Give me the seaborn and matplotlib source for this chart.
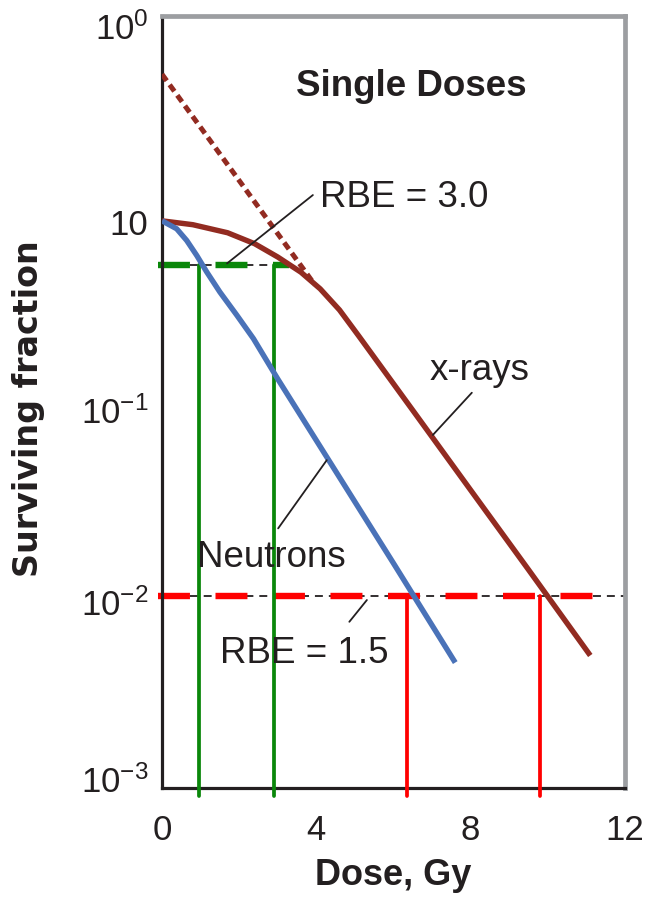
import matplotlib
matplotlib.use("Agg")
import matplotlib.pyplot as plt
import matplotlib.transforms as mtransforms
import pandas as pd
import seaborn as sns

# Cell survival after single doses (dose in Gy, surviving fraction)
xray_dose = [0.0, 0.8, 1.7, 2.4, 3.0, 3.6, 4.1, 4.6, 5.1, 6.5, 8.0, 9.5, 11.1]
xray_surv = [0.90, 0.859, 0.78, 0.684, 0.583, 0.486, 0.398, 0.309, 0.226,
             0.0927, 0.0356, 0.0137, 0.0049]
neutron_dose = [0.0, 0.38, 0.64, 0.9, 1.16, 1.5, 1.94, 2.37, 3.0, 4.5, 6.0, 7.6]
neutron_surv = [0.90, 0.818, 0.711, 0.594, 0.487, 0.383, 0.29, 0.219, 0.135,
                0.0447, 0.0148, 0.0045]

# Back-extrapolation of the x-ray exponential region
extrap_dose = [0.0, 3.96]
extrap_surv = [5.22, 0.418]

# Iso-effect levels and the doses giving them
iso_levels = [0.53, 0.01]
iso_neutron_dose = [0.96, 6.36]
iso_xray_dose = [2.9, 9.79]
rbe_labels = ["RBE = 3.0", "RBE = 1.5"]

# Axis ticks
x_ticks = [0, 4, 8, 12]
y_ticks = [1e-3, 1e-2, 1e-1, 1, 10]
y_ticklabels = [r"$10^{-3}$", r"$10^{-2}$", r"$10^{-1}$", "10", r"$10^{0}$"]

sns.set_theme(style="white")
plt.rcParams["font.family"] = ["Liberation Sans", "DejaVu Sans"]
plt.rcParams["mathtext.fontset"] = "custom"
plt.rcParams["mathtext.rm"] = "Liberation Sans"
plt.rcParams["mathtext.it"] = "Liberation Sans:italic"
plt.rcParams["mathtext.bf"] = "Liberation Sans:bold"

XRAY = "#922B21"
NEUT = "#4A72B8"
GREEN = "#0A870A"
RED = "#FF0000"
INK = "#231F20"
GREY = "#9C9EA1"

fig = plt.figure(figsize=(6.46, 8.98), dpi=100)
ax = fig.add_axes([0.2508, 0.1225, 0.7167, 0.8597])
ax.set_yscale("log")
ax.set_xlim(0, 12)
ax.set_ylim(1e-3, 10.5)

curves = pd.concat([
    pd.DataFrame({"dose": xray_dose, "surv": xray_surv, "beam": "x-rays"}),
    pd.DataFrame({"dose": neutron_dose, "surv": neutron_surv, "beam": "Neutrons"}),
])
sns.lineplot(data=curves, x="dose", y="surv", hue="beam",
             palette={"x-rays": XRAY, "Neutrons": NEUT},
             estimator=None, sort=False, lw=3.9, legend=False, ax=ax, zorder=4)
for ln in ax.get_lines():
    ln.set_solid_joinstyle("round")
    ln.set_solid_capstyle("butt")

# Extrapolated straight line (dotted)
ax.plot(extrap_dose, extrap_surv, color=XRAY, lw=3.6, ls=(0, (1.6, 1.0)),
        dash_capstyle="butt", zorder=5)

# Iso-effect reference lines
bottom = 9.1e-4
x_ends = [3.3, 11.7]
thin_ends = [3.2, 12.0]
colors = [GREEN, RED]
for lvl, dn, dx, xe, te, c in zip(iso_levels, iso_neutron_dose, iso_xray_dose,
                                  x_ends, thin_ends, colors):
    ax.plot([0, te], [lvl, lvl], color=INK, lw=1.3, ls=(0, (4.4, 3.3)), zorder=1)
    ax.plot([-0.1, xe], [lvl, lvl], color=c, lw=4.6, ls=(0, (5.0, 4.0)),
            clip_on=False, zorder=2)
    for d in (dn, dx):
        ax.plot([d, d], [lvl, bottom], color=c, lw=2.7, clip_on=False, zorder=3)

# Annotations with leader lines
leader_kw = dict(color=INK, lw=1.3, zorder=6)
ax.plot([1.685, 3.91], [0.54, 1.226], **leader_kw)
ax.plot([8.03, 7.02], [0.1145, 0.069], **leader_kw)
ax.plot([3.01, 4.27], [0.0225, 0.051], **leader_kw)
ax.plot([4.855, 5.31], [0.00734, 0.00953], **leader_kw)

tk = dict(transform=ax.transAxes, fontsize=26.5, color=INK, va="baseline")
ax.text(0.538, 0.896, "Single Doses", ha="center", fontweight="bold", **tk)
ax.text(0.341, 0.7526, rbe_labels[0], ha="left", **tk)
ax.text(0.579, 0.5285, "x-rays", ha="left", **tk)
ax.text(0.075, 0.2867, "Neutrons", ha="left", **tk)
ax.text(0.125, 0.1615, rbe_labels[1], ha="left", **tk)

# Axes styling
ax.set_xticks(x_ticks)
ax.set_xticklabels([str(t) for t in x_ticks])
ax.set_yticks(y_ticks)
ax.set_yticklabels(y_ticklabels)
ax.minorticks_off()
ax.tick_params(axis="both", direction="in", length=13, width=1.6, colors=INK,
               labelsize=25, labelcolor=INK)
ax.tick_params(axis="y", pad=10)
ax.tick_params(axis="x", pad=19)
for side in ("left", "bottom"):
    ax.spines[side].set_color(INK)
    ax.spines[side].set_linewidth(2.3)
for side in ("top", "right"):
    ax.spines[side].set_color(GREY)
    ax.spines[side].set_linewidth(3.4)

ax.set_xlabel("Dose, Gy", fontsize=26, fontweight="bold", color=INK, labelpad=8)
ax.set_ylabel("Surviving fraction", fontsize=24, fontweight="bold", color=INK,
              family="DejaVu Sans")
ax.yaxis.label.set_va("center")
ax.yaxis.set_label_coords(-0.288, 0.491)

fig.canvas.draw()
# nudge y tick labels vertically (pixels, positive = down)
shifts = [-9, 6, 6, 10, 6]
for lab, s in zip(ax.get_yticklabels(), shifts):
    lab.set_transform(lab.get_transform() +
                      mtransforms.ScaledTranslation(0, -s / 100, fig.dpi_scale_trans))

fig.savefig("out.png", dpi=100, facecolor="white")
